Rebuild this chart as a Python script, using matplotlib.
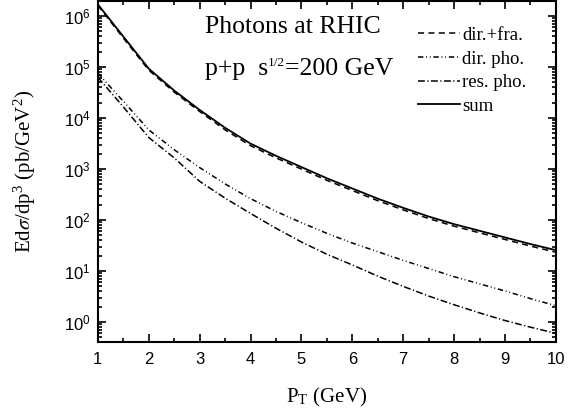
import numpy as np
import matplotlib
matplotlib.use("Agg")
import matplotlib.pyplot as plt
from matplotlib.ticker import FixedLocator, FixedFormatter, MultipleLocator, LogLocator, NullFormatter

# p_T grid (GeV) and log10 of the cross sections (pb/GeV^2)
pt = [1.0, 1.5, 2.0, 2.5, 3.0, 3.5, 4.0, 4.5, 5.0, 5.5,
      6.0, 6.5, 7.0, 7.5, 8.0, 8.5, 9.0, 9.5, 10.0]
log_sum = [6.23, 5.60, 4.97, 4.54, 4.16, 3.81, 3.50, 3.26, 3.04, 2.82,
           2.62, 2.42, 2.24, 2.07, 1.92, 1.79, 1.66, 1.53, 1.41]
log_dirfra = [6.21, 5.57, 4.94, 4.51, 4.13, 3.77, 3.46, 3.22, 3.00, 2.78,
              2.58, 2.38, 2.20, 2.03, 1.88, 1.75, 1.62, 1.49, 1.37]
log_dirpho = [4.88, 4.33, 3.77, 3.38, 3.03, 2.71, 2.42, 2.17, 1.95, 1.74,
              1.55, 1.38, 1.21, 1.05, 0.89, 0.75, 0.61, 0.46, 0.32]
log_respho = [4.80, 4.22, 3.62, 3.22, 2.76, 2.43, 2.13, 1.84, 1.57, 1.33,
              1.12, 0.90, 0.70, 0.51, 0.34, 0.18, 0.03, -0.10, -0.22]

plt.rcParams["mathtext.fontset"] = "stix"
serif = "Liberation Serif"
sans = "Liberation Sans"

fig = plt.figure(figsize=(5.69, 4.13), dpi=100)
ax = fig.add_axes([0.172, 0.172, 0.805, 0.826])

lw = 1.1
ax.plot(pt, 10 ** np.array(log_dirfra), color="black", lw=lw, ls=(0, (4, 2.8)), label="dir.+fra.")
ax.plot(pt, 10 ** np.array(log_dirpho), color="black", lw=lw,
        ls=(0, (3.5, 1.8, 0.6, 1.8, 0.6, 1.8)), label="dir. pho.")
ax.plot(pt, 10 ** np.array(log_respho), color="black", lw=lw, ls=(0, (4.5, 1.6, 0.8, 1.6)), label="res. pho.")
ax.plot(pt, 10 ** np.array(log_sum), color="black", lw=lw + 0.2, ls="-", label="sum")

ax.set_yscale("log")
ax.set_xlim(1, 10)
ax.set_ylim(10 ** -0.39, 10 ** 6.3)

ax.xaxis.set_major_locator(MultipleLocator(1))
ax.xaxis.set_minor_locator(MultipleLocator(0.5))
decades = [0, 1, 2, 3, 4, 5, 6]
ax.yaxis.set_major_locator(FixedLocator([10.0 ** d for d in decades]))
ax.yaxis.set_major_formatter(FixedFormatter([r"$\mathregular{10^{%d}}$" % d for d in decades]))
ax.yaxis.set_minor_locator(LogLocator(base=10, subs=np.arange(2, 10), numticks=20))
ax.yaxis.set_minor_formatter(NullFormatter())

ax.tick_params(which="both", direction="in", top=True, right=True, width=1.2)
ax.tick_params(which="major", length=6, labelsize=12)
ax.tick_params(axis="x", which="major", pad=7)
ax.tick_params(axis="y", which="major", pad=5)
ax.tick_params(which="minor", length=3)
for lab in ax.get_xticklabels() + ax.get_yticklabels():
    lab.set_fontfamily(sans)
for sp in ax.spines.values():
    sp.set_linewidth(1.5)

ax.set_xlabel(r"P$_\mathregular{T}$ (GeV)", fontsize=15, family=serif, labelpad=14)
ax.set_ylabel(r"Ed$\sigma$/dp$^\mathregular{3}$ (pb/GeV$^\mathregular{2}$)", fontsize=15, family=serif,
              labelpad=19)

ax.text(0.233, 0.906, "Photons at RHIC", transform=ax.transAxes, fontsize=18.5, family=serif, va="baseline")
# second line: small "1/2" superscript built from chained annotations
t1 = ax.text(0.233, 0.783, "p+p  s", transform=ax.transAxes, fontsize=18.5, family=serif, va="baseline")
t2 = ax.annotate("1/2", xy=(1.0, 0.62), xycoords=t1, fontsize=9.5, family=serif, va="baseline")
ax.annotate("=200 GeV", xy=(1.0, 0.0), xycoords=(t2, t1), fontsize=18.5, family=serif, va="bottom")

ax.legend(loc="upper left", bbox_to_anchor=(0.699, 0.924), frameon=False, handlelength=2.25,
          handletextpad=0.12, labelspacing=0.35, borderaxespad=0.0, borderpad=0.0,
          prop={"family": serif, "size": 13.5})

fig.savefig("out.png", dpi=100)
